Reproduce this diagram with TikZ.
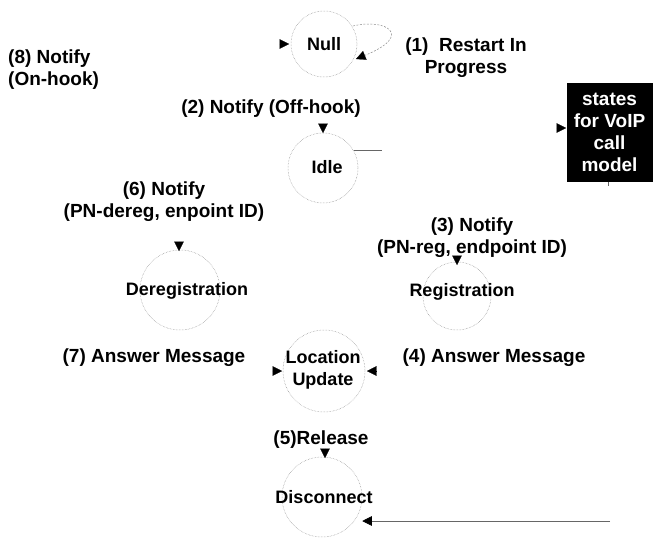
\documentclass[tikz,border=0pt]{standalone}
\usepackage{fontspec}
\setmainfont{Liberation Sans}
\usetikzlibrary{arrows.meta,calc}
\begin{document}
\begin{tikzpicture}[x=1pt,y=-1pt,
  every node/.style={font=\fontsize{19}{21.5}\selectfont\bfseries, inner sep=0pt},
  statename/.style={font=\fontsize{18}{21.5}\selectfont\bfseries},
  state/.style={circle, draw=black!45, densely dotted, line width=0.5pt, minimum size=#1},
  lbl/.style={align=center},
  tipmark/.style={-{Triangle[length=9.5pt,width=9.5pt]}, draw=black, line width=0.2pt},
  wire/.style={draw=black!60, line width=0.6pt},
  loopline/.style={draw=black!45, dash pattern=on 2pt off 1.5pt, line width=0.5pt,
    -{Triangle[length=9.5pt,width=9.5pt,color=black,fill=black,line width=0.2pt]}}
]
\useasboundingbox (0,0) rectangle (655,538);

% states
\node[state=66pt] (null) at (324,44) {};
\node[statename] at (324,44) {Null};
\node[state=70pt] (idle) at (323,168) {};
\node[statename] at (327,167) {Idle};
\node[state=80pt] (dereg) at (180,290) {};
\node[statename] at (187,291) {Deregistration};
\node[state=68pt] (reg) at (457,296) {};
\node[statename] at (462,292) {Registration};
\node[state=82pt] (loc) at (324,371) {};
\node[statename, lbl] at (323,370) {Location\\Update};
\node[state=80pt] (disc) at (322,497) {};
\node[statename] at (324,497) {Disconnect};

% black box
\node[fill=black, text=white, align=center, minimum width=86pt, minimum height=99pt,
  font=\fontsize{19}{22}\selectfont\bfseries] (box) at (609.5,132.5) {states\\for VoIP\\call\\model};

% labels
\node[lbl, anchor=base] (l1) at (466,73) {(1)\ \ Restart In\\Progress};
\node[align=left, anchor=base west] (l8) at (8,85) {(8) Notify\\(On-hook)};
\node[anchor=base] (l2) at (271,113) {(2) Notify (Off-hook)};
\node[lbl, anchor=base] (l6) at (164,217) {(6) Notify\\(PN-dereg, enpoint ID)};
\node[lbl, anchor=base] (l3) at (472,253) {(3) Notify\\(PN-reg, endpoint ID)};
\node[anchor=base] (l7) at (154,362) {(7) Answer Message};
\node[anchor=base] (l4) at (494,362) {(4) Answer Message};
\node[anchor=base] (l5) at (321,444) {(5)Release};

% arrow tips into the states
\coordinate (tnull) at (289,44);
\coordinate (tidle) at (323,133);
\coordinate (tdereg) at (179,251);
\coordinate (treg) at (457,265);
\coordinate (tlocl) at (282,371);
\coordinate (tlocr) at (367,371);
\coordinate (tdisc) at (325,458);
\coordinate (tbox) at (566,128);
\draw[tipmark] ($(tnull)+(-9.5,0)$) -- (tnull);
\draw[tipmark] ($(tidle)+(0,-9.5)$) -- (tidle);
\draw[tipmark] ($(tdereg)+(0,-9.5)$) -- (tdereg);
\draw[tipmark] ($(treg)+(0,-9.5)$) -- (treg);
\draw[tipmark] ($(tlocl)+(-9.5,0)$) -- (tlocl);
\draw[tipmark] ($(tlocr)+(9.5,0)$) -- (tlocr);
\draw[tipmark] ($(tdisc)+(0,-9.5)$) -- (tdisc);
\draw[tipmark] ($(tbox)+(-9.5,0)$) -- (tbox);

% self loop on Null
\coordinate (ls) at (353,26);
\coordinate (le) at (356,59);
\draw[loopline] (ls) .. controls (385,18) and (415,35) .. (le);

% remaining connectors
\coordinate (iend) at ($(idle.30)+(28,0)$);
\draw[wire] (idle.30) -- (iend);
\coordinate (dsrc) at (610,521);
\draw[wire, -{Triangle[length=9.5pt,width=9.5pt,color=black,fill=black]}] (dsrc) -- (dsrc -| disc.east);
\coordinate (btick) at (608,186);
\draw[wire] (box.south -| btick) -- (btick);
\end{tikzpicture}
\end{document}
